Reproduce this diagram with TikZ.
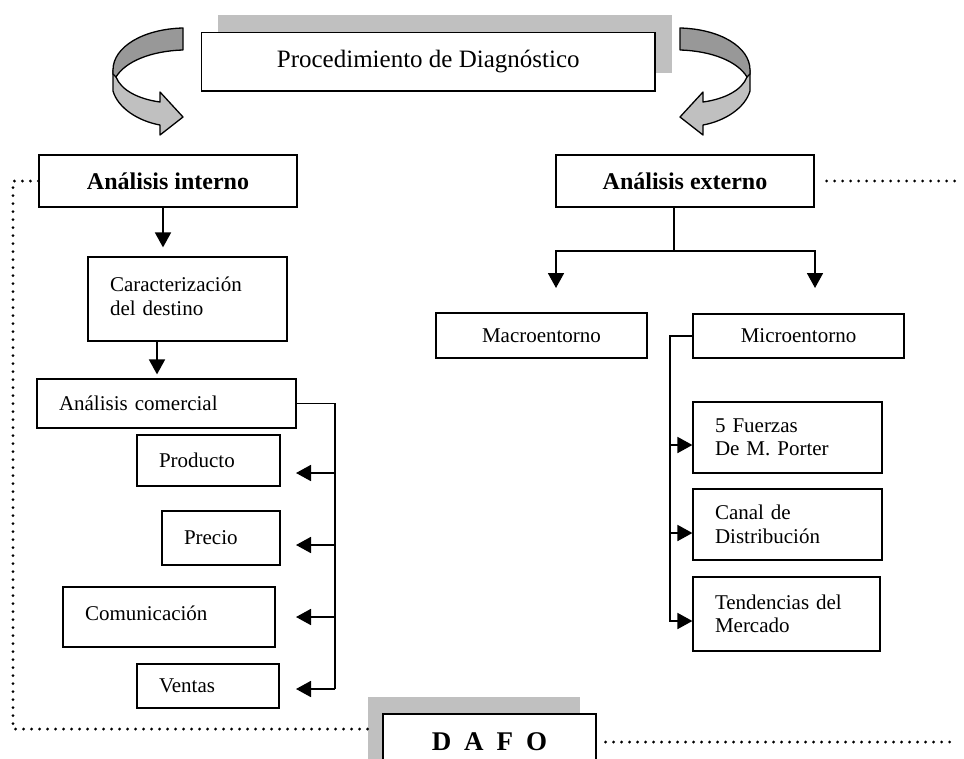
\documentclass[tikz,border=0pt]{standalone}
\usepackage{fontspec}
\setmainfont{Liberation Serif}
\usetikzlibrary{arrows.meta}
\definecolor{shadowgray}{HTML}{C0C0C0}
\definecolor{lightribbon}{HTML}{C0C0C0}
\definecolor{darkribbon}{HTML}{989898}
\newcommand{\ribbonArrowPaths}{%
  \filldraw[fill=lightribbon, draw=black, line width=1.3pt, line join=round]
    (113,70) -- (113,91) .. controls (118,108) and (138,121) .. (160,125)
    -- (160,135) -- (183,117) -- (160,92) -- (160,102)
    .. controls (138,99) and (121,90) .. (116,77) -- cycle;
  \filldraw[fill=darkribbon, draw=black, line width=1.3pt, line join=round]
    (183,28) .. controls (143,29) and (113,47) .. (113,70) -- (113,74) -- (116,77)
    .. controls (125,62) and (150,51) .. (183,50) -- cycle;
}
\begin{document}
\begin{tikzpicture}[x=1pt,y=-1pt,
  box/.style={draw, line width=1.2pt, fill=white, inner sep=0pt, font=\fontsize{21}{23.5}\selectfont},
  lbox/.style={box, align=left, inner xsep=22pt},
  bbox/.style={box, font=\fontsize{24}{28}\selectfont\bfseries},
  arr/.style={line width=1.8pt, -{Triangle[length=15pt,width=16pt]}},
  conn/.style={line width=1.3pt},
  dots/.style={line width=3.2pt, line cap=round, dash pattern=on 0pt off 8pt},
]
\clip (0,0) rectangle (964,758);
\fill[white] (0,0) rectangle (964,758);

% curved ribbon arrows
\ribbonArrowPaths
\begin{scope}[shift={(863,0)}, xscale=-1]
  \ribbonArrowPaths
\end{scope}

% title
\fill[shadowgray] (218,14.6) rectangle (671.6,72.8);
\node[box, font=\fontsize{25}{29}\selectfont, minimum width=453.5pt, minimum height=58.4pt] (title) at (428.25,61.8) {Procedimiento de Diagnóstico};

% main analysis boxes
\node[bbox, minimum width=258pt, minimum height=52pt] (ai) at (168,181) {Análisis interno};
\node[bbox, minimum width=258pt, minimum height=52pt] (ae) at (685,181) {Análisis externo};

% internal side
\node[lbox, text width=155pt, minimum height=84pt] (car) at (187.5,299) {\raisebox{5pt}{\begin{tabular}{@{}l@{}}Caracterización\\del destino\end{tabular}}};
\node[lbox, text width=215pt, minimum height=49pt] (com) at (166.5,403.5) {Análisis comercial};
\node[lbox, text width=99pt, minimum height=51pt] (prod) at (208.5,460.5) {Producto};
\node[lbox, text width=74pt, minimum height=54pt] (prec) at (221,538) {Precio};
\node[lbox, text width=168pt, minimum height=60pt] (comu) at (169,617) {\raisebox{7pt}{Comunicación}};
\node[lbox, text width=98pt, minimum height=44pt] (vent) at (208,686) {Ventas};

% external side
\node[box, minimum width=211pt, minimum height=45pt] (macro) at (541.5,335.5) {Macroentorno};
\node[box, minimum width=211pt, minimum height=44pt] (micro) at (798.5,336) {Microentorno};
\node[lbox, text width=145pt, minimum height=71pt] (fuer) at (787.5,437.5) {5 Fuerzas\\De M. Porter};
\node[lbox, text width=145pt, minimum height=71pt] (canal) at (787.5,524.5) {Canal de\\Distribución};
\node[lbox, text width=143pt, minimum height=74pt] (tend) at (786.5,614) {Tendencias del\\Mercado};

% DAFO
\fill[shadowgray] (368,697) rectangle (580,770);
\node[box, font=\fontsize{27}{30}\selectfont\bfseries, minimum width=213pt, minimum height=56pt] (dafo) at (489.5,742) {D\hspace{13pt}A\hspace{13pt}F\hspace{13pt}O};

% coordinates
\coordinate (cbB) at (335,689);
\coordinate (c1) at (335,473); \coordinate (t1) at (296,473);
\coordinate (c2) at (335,545); \coordinate (t2) at (296,545);
\coordinate (c3) at (335,617); \coordinate (t3) at (296,617);
\coordinate (c4) at (335,689); \coordinate (t4) at (296,689);
\coordinate (eJ) at (674,251);
\coordinate (eL) at (556,251); \coordinate (eLt) at (556,288);
\coordinate (eR) at (815,251); \coordinate (eRt) at (815,288);
\coordinate (mT) at (670,336); \coordinate (mB) at (670,622);
\coordinate (m1) at (670,445);
\coordinate (m2) at (670,533);
\coordinate (m3) at (670,621);
\coordinate (dL1) at (13,181); \coordinate (dL2) at (13,729); \coordinate (dL3) at (368,729);
\coordinate (dR1) at (955,181);
\coordinate (dR2) at (955,742);

% internal connectors
\draw[arr, shorten >=9pt] ([xshift=-5pt]ai.south) -- ([xshift=-24.5pt]car.north);
\draw[arr, shorten >=4pt] ([xshift=-30.5pt]car.south) -- ([xshift=-9.5pt]com.north);
\draw[conn] (com.east) -| (cbB);
\draw[arr] (c1) -- (t1);
\draw[arr] (c2) -- (t2);
\draw[arr] (c3) -- (t3);
\draw[arr] (c4) -- (t4);

% external connectors
\draw[conn] ([xshift=-11pt]ae.south) -- (eJ);
\draw[arr, line join=miter] (eJ) -- (eL) -- (eLt);
\draw[arr, line join=miter] (eJ) -- (eR) -- (eRt);
\draw[conn] (micro.west) -- (mT) -- (mB);
\draw[arr] (m1) -- (m1 -| fuer.west);
\draw[arr] (m2) -- (m2 -| canal.west);
\draw[arr] (m3) -- (m3 -| tend.west);

% dotted links
\draw[dots] (ai.west) -- (dL1) -- (dL2) -- (dL3);
\draw[dots, shorten <=12pt] (ae.east) -- (dR1);
\draw[dots, shorten <=9pt] (dafo.east) -- (dR2);
\end{tikzpicture}
\end{document}
